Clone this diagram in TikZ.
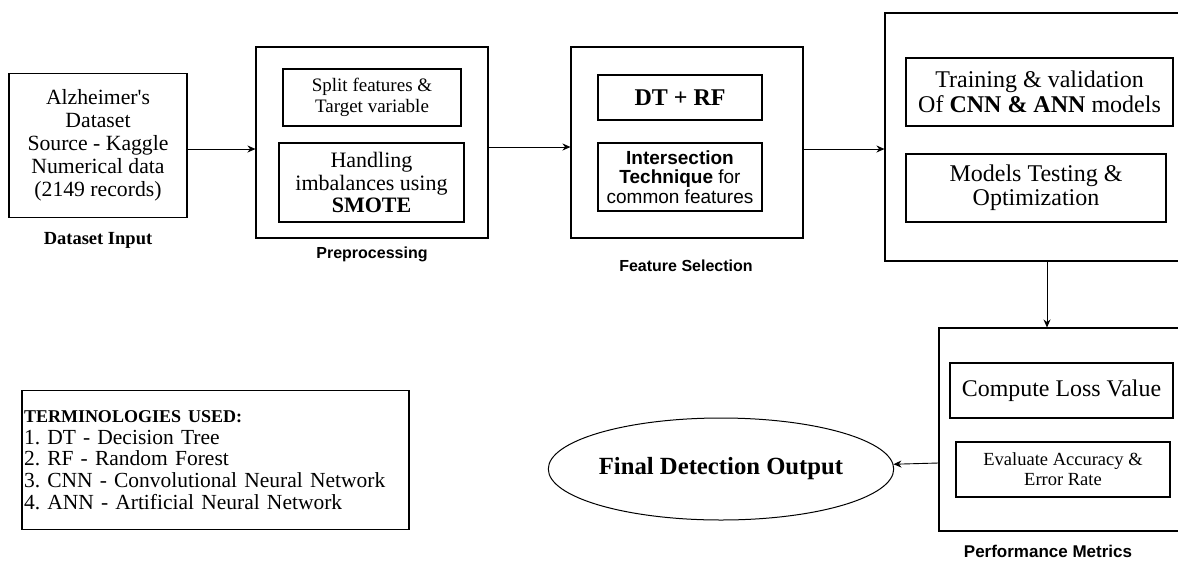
\documentclass[tikz,border=0pt]{standalone}
\usepackage{fontspec}
\setmainfont{Liberation Serif}
\setsansfont{Liberation Sans}
\newfontfamily\plainserif{Liberation Serif}
\usepackage{tikz}
\usetikzlibrary{positioning, calc, arrows.meta, shapes.geometric}

\newcommand{\fsz}[2]{\fontsize{#1}{#2}\selectfont}

\tikzset{
	stage/.style={draw, line width=1.1pt, inner sep=0pt, align=center},
	step box/.style={draw, line width=1.3pt, inner sep=0pt, align=center},
	caption/.style={font=\sffamily\bfseries\fsz{16}{18}},
	flow/.style={-{Stealth[length=8pt, width=7pt]}, line width=0.9pt}
}

\begin{document}
\frenchspacing
\begin{tikzpicture}[x=1pt, y=-1pt]
		\useasboundingbox (0,0) rectangle (1178,563);
		% outer stages
		\node[stage, minimum width=178, minimum height=144, font=\fsz{21.7}{23}] (data) at (98,145.5)
			{Alzheimer{\plainserif '}s\\Dataset\\Source - Kaggle\\Numerical data\\(2149 records)};
		\node[stage, minimum width=232, minimum height=191] (prep) at (372,142.5) {};
		\node[stage, minimum width=232, minimum height=191] (fsel) at (687,142.5) {};
		\node[stage, minimum width=305, minimum height=248] (train) at (1037.5,137) {};
		\node[stage, minimum width=251, minimum height=203] (perf) at (1064.5,429.5) {};
		% inner steps
		\node[step box, minimum width=178, minimum height=57, font=\fsz{19}{20.5}] (split) at (372,97.5)
			{Split features \&\\Target variable};
		\node[step box, minimum width=185, minimum height=79, font=\fsz{22}{22.5}] (smote) at (371.5,182.5)
			{Handling\\imbalances using\\\textbf{SMOTE}};
		\node[step box, minimum width=164, minimum height=45, font=\bfseries\fsz{24}{26}] (dtrf) at (680,97.5)
			{DT + RF};
		\node[step box, minimum width=164, minimum height=68, font=\sffamily\fsz{19}{19.5}] (inter) at (680,177)
			{\textbf{Intersection}\\\textbf{Technique} for\\common features};
		\node[step box, minimum width=267, minimum height=68, font=\fsz{24}{24.5}] (trainval) at (1039.5,92)
			{Training \& validation\\Of \textbf{CNN \& ANN} models};
		\node[step box, minimum width=260, minimum height=68, font=\fsz{24}{24}] (testopt) at (1036,188)
			{Models Testing \&\\Optimization};
		\node[step box, minimum width=223, minimum height=55, font=\fsz{23.9}{26}] (loss) at (1061.5,390.5)
			{Compute Loss Value};
		\node[step box, minimum width=214, minimum height=55, font=\fsz{18.5}{20}] (evalacc) at (1063,469.5)
			{Evaluate Accuracy \&\\Error Rate};
		\node[ellipse, draw, line width=1pt, minimum width=276, minimum height=102, inner sep=0pt,
			font=\bfseries\fsz{24.7}{26}] (final) at (721,469) {Final Detection Output};
		\node[stage, minimum width=387, minimum height=139, text width=383, align=left,
			inner xsep=2pt, font=\fsz{21.5}{21.8}] (terms) at (215.5,460)
			{{\bfseries\fsz{18}{21.8}TERMINOLOGIES USED:}\\
			1. DT - Decision Tree\\
			2. RF - Random Forest\\
			3. CNN - Convolutional Neural Network\\
			4. ANN - Artificial Neural Network};
		% captions
		\node[font=\bfseries\fsz{18.5}{20}] (dataLbl) at (98,240) {Dataset Input};
		\node[caption] (prepLbl) at (372,254) {Preprocessing};
		\node[caption] (fselLbl) at (686,266) {Feature Selection};
		\node[caption, font=\sffamily\bfseries\fsz{17}{18}] (perfLbl) at (1048,551) {Performance Metrics};
		% connectors
		\draw[flow] ([yshift=-3.5pt]data.east) -- ([yshift=-3.5pt]data.east -| prep.west);
		\draw[flow] ([yshift=-4.5pt]prep.east) -- ([yshift=-4.5pt]prep.east -| fsel.west);
		\draw[flow] ([yshift=-6.5pt]fsel.east) -- ([yshift=-6.5pt]fsel.east -| train.west);
		\draw[flow] ([xshift=9.5pt]train.south) -- ([xshift=9.5pt]train.south |- perf.north);
		\draw[flow] ([yshift=-33.5pt]perf.west) -- (final);
	\end{tikzpicture}
\end{document}
